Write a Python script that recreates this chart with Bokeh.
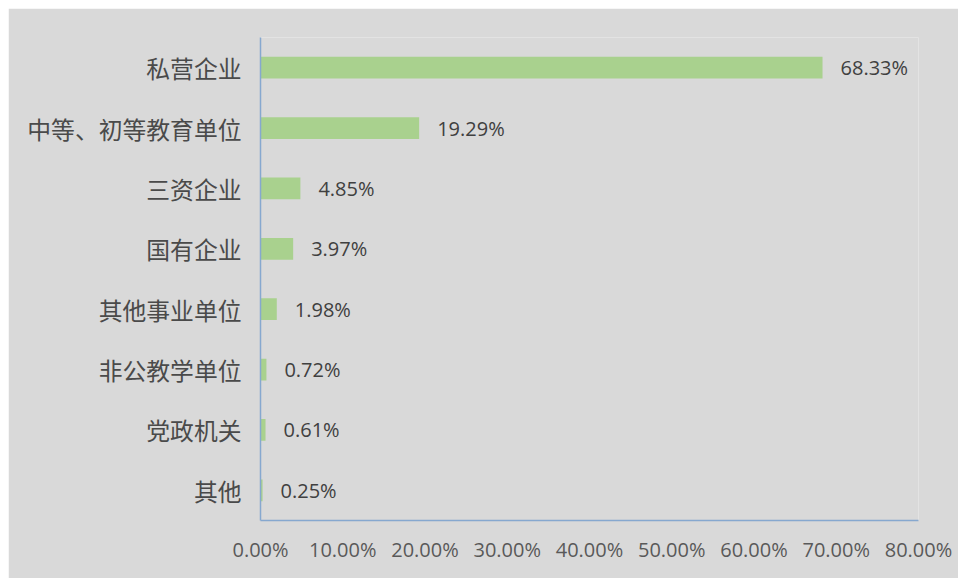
from bokeh.plotting import figure
from bokeh.models import ColumnDataSource, FactorRange, PrintfTickFormatter, FixedTicker, Range1d, Spacer
from bokeh.layouts import column, row
from bokeh.core.properties import value
from bokeh.embed import file_html
from bokeh.resources import INLINE

categories = ["私营企业", "中等、初等教育单位", "三资企业", "国有企业", "其他事业单位", "非公教学单位", "党政机关", "其他"]
shares = [68.33, 19.29, 4.85, 3.97, 1.98, 0.72, 0.61, 0.25]
labels = ["68.33%", "19.29%", "4.85%", "3.97%", "1.98%", "0.72%", "0.61%", "0.25%"]
x_ticks = [0, 10, 20, 30, 40, 50, 60, 70, 80]

src = ColumnDataSource(dict(cat=categories, val=shares, lab=labels))

p = figure(width=950, height=570, output_backend="svg", toolbar_location=None,
           y_range=FactorRange(factors=list(reversed(categories))),
           x_range=Range1d(0, 80),
           min_border_left=252, min_border_right=40, min_border_top=29, min_border_bottom=58)

bg = "#d9d9d9"
p.background_fill_color = bg
p.border_fill_color = bg
p.outline_line_color = None
p.xgrid.grid_line_color = None
p.ygrid.grid_line_color = None
p.y_range.range_padding = 0

p.hbar(y="cat", right="val", left=0, height=0.36, source=src, color="#a9d18e", line_color=None)
p.text(x="val", y="cat", text="lab", source=src, x_offset=18, text_baseline="middle",
       text_font=value("Open Sans"), text_font_size="20px", text_color="#404040")

ax_col = "#86a8cf"
p.yaxis.axis_line_color = ax_col
p.yaxis.axis_line_width = 1.5
p.yaxis.major_tick_line_color = None
p.yaxis.minor_tick_line_color = None
p.yaxis.major_tick_out = 0
p.yaxis.major_tick_in = 0
p.yaxis.major_label_standoff = 19
p.yaxis.major_label_text_font = "Noto Sans CJK SC"
p.yaxis.major_label_text_font_size = "23.8px"
p.yaxis.major_label_text_color = "#4a4a4a"

p.xaxis.axis_line_color = ax_col
p.xaxis.axis_line_width = 1.5
p.xaxis.major_tick_line_color = None
p.xaxis.minor_tick_line_color = None
p.xaxis.major_tick_out = 0
p.xaxis.major_tick_in = 0
p.xaxis.ticker = FixedTicker(ticks=x_ticks)
p.xaxis.formatter = PrintfTickFormatter(format="%.2f%%")
p.xaxis.major_label_standoff = 15
p.xaxis.major_label_text_font = "Open Sans"
p.xaxis.major_label_text_font_size = "20px"
p.xaxis.major_label_text_color = "#595959"

layout = column(Spacer(height=8, width=958), row(Spacer(width=8, height=570), p))
open("out.html", "w").write(file_html(layout, INLINE))
